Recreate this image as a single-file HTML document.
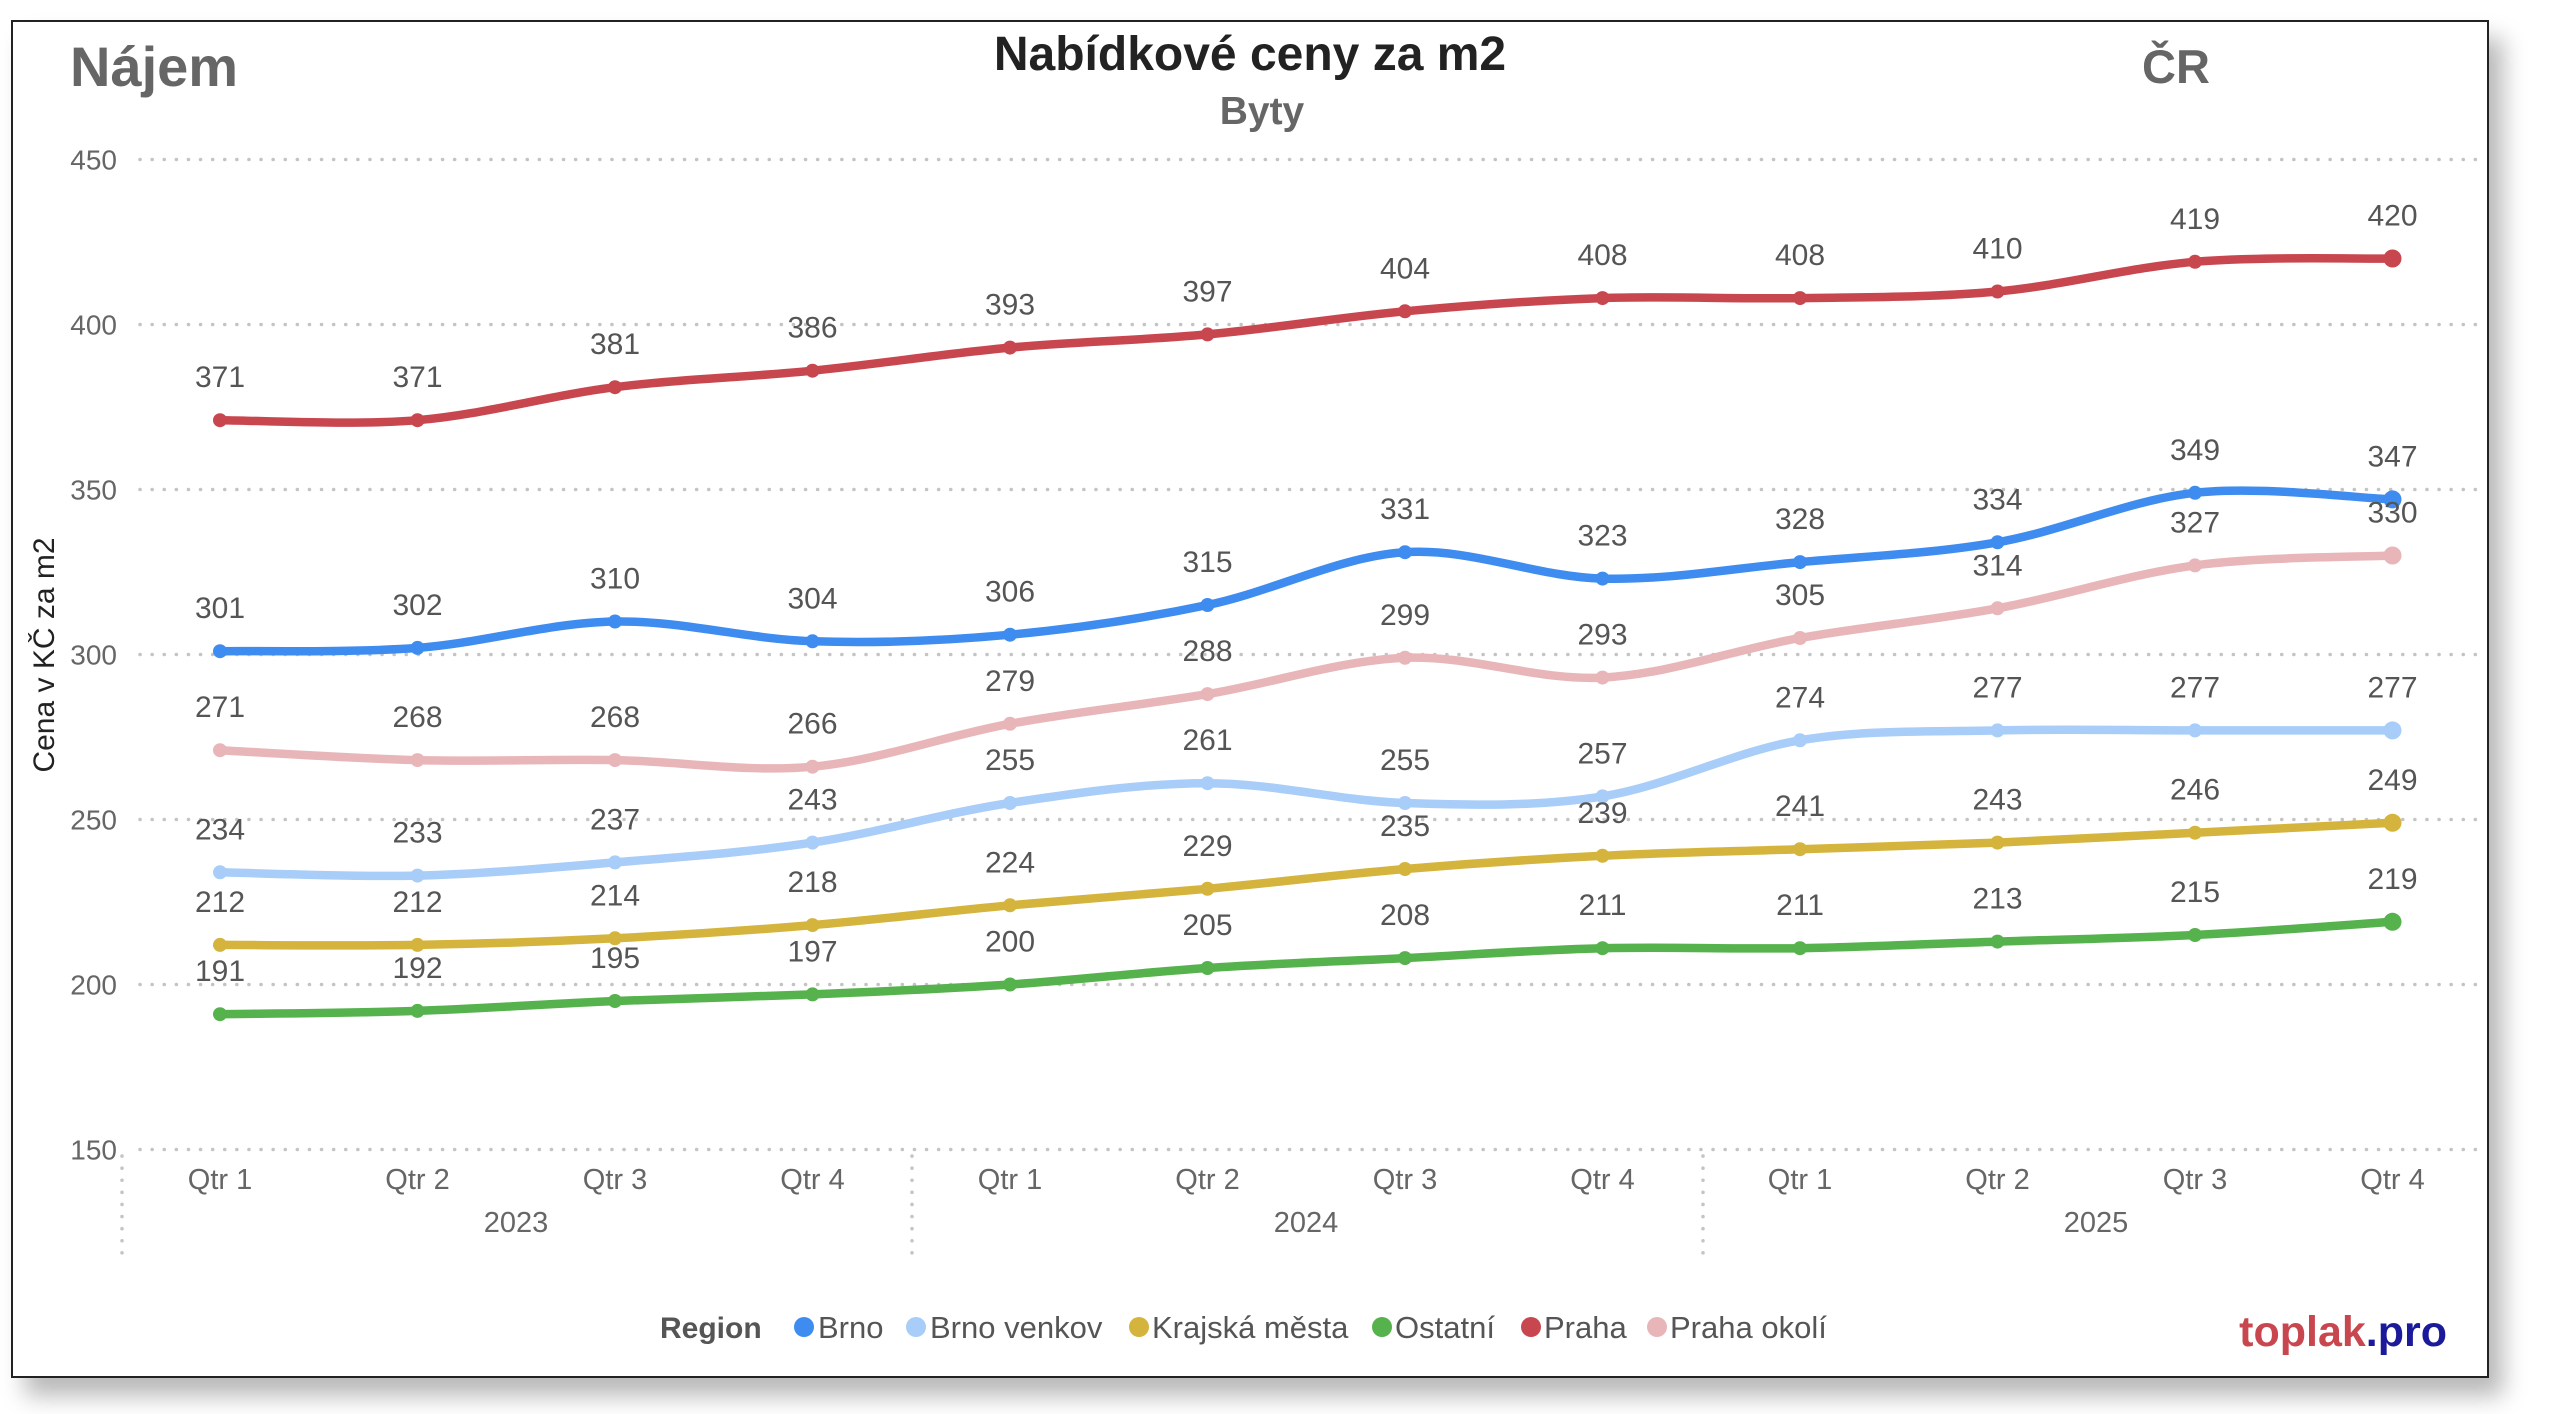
<!DOCTYPE html>
<html><head><meta charset="utf-8">
<style>
html,body{margin:0;padding:0;background:#fff;}
body{width:2560px;height:1414px;position:relative;overflow:hidden;font-family:"Liberation Sans",sans-serif;}
#frame{position:absolute;left:11px;top:20px;width:2474px;height:1354px;border:2px solid #222;background:#fff;box-shadow:14px 18px 22px rgba(0,0,0,0.28);}
svg{position:absolute;left:0;top:0;}
</style></head>
<body>
<div id="frame"></div>
<svg id="s" width="2560" height="1414" xmlns="http://www.w3.org/2000/svg" font-family="Liberation Sans, sans-serif">
<text x="70" y="86" font-size="56" font-weight="bold" fill="#666">Nájem</text>
<text x="1250" y="70" font-size="48" font-weight="bold" fill="#222" text-anchor="middle">Nabídkové ceny za m2</text>
<text x="1262" y="124" font-size="39" font-weight="bold" fill="#666" text-anchor="middle">Byty</text>
<text x="2176" y="83" font-size="47" font-weight="bold" fill="#666" text-anchor="middle">ČR</text>
<text transform="translate(54,655) rotate(-90)" font-size="30" fill="#222" text-anchor="middle">Cena v KČ za m2</text>
<g id="grid"></g>
<g id="series"></g>
<g id="labels" font-size="30" fill="#555" text-anchor="middle"></g>
<g font-size="29" fill="#666" text-anchor="middle" id="xax"></g>
<g font-size="31" fill="#555">
<text x="660" y="1338" font-weight="bold" font-size="30">Region</text>
<circle cx="804" cy="1327" r="10" fill="#3f8cf0"/><text x="818" y="1338">Brno</text>
<circle cx="916" cy="1327" r="10" fill="#a8cdf8"/><text x="930" y="1338">Brno venkov</text>
<circle cx="1139" cy="1327" r="10" fill="#d4b43c"/><text x="1152" y="1338">Krajská města</text>
<circle cx="1382" cy="1327" r="10" fill="#55b24c"/><text x="1395" y="1338">Ostatní</text>
<circle cx="1531" cy="1327" r="10" fill="#c8474f"/><text x="1544" y="1338">Praha</text>
<circle cx="1657" cy="1327" r="10" fill="#e8b6b8"/><text x="1670" y="1338">Praha okolí</text>
</g>
<text x="2447" y="1346" font-size="43" font-weight="bold" text-anchor="end"><tspan fill="#c8474f">toplak</tspan><tspan fill="#1a1a9a">.pro</tspan></text>
</svg>
<script>
var NS="http://www.w3.org/2000/svg";
function el(p,t,a,txt){var e=document.createElementNS(NS,t);for(var k in a)e.setAttribute(k,a[k]);if(txt!==undefined)e.textContent=txt;document.getElementById(p).appendChild(e);return e;}
function Y(v){return 159.5+(450-v)*3.3;}
function X(i){return 220+i*197.5;}
[450,400,350,300,250,200,150].forEach(function(v){
 el("grid","line",{x1:140,x2:2480,y1:Y(v),y2:Y(v),stroke:"#c4c4c4","stroke-width":3.5,"stroke-dasharray":"0.1 12","stroke-linecap":"round"});
 el("grid","text",{x:117,y:Y(v)+10,"font-size":28,fill:"#666","text-anchor":"end"},String(v));
});
[122,912,1703].forEach(function(x){
 el("grid","line",{x1:x,x2:x,y1:1156,y2:1258,stroke:"#c4c4c4","stroke-width":3.5,"stroke-dasharray":"0.1 12","stroke-linecap":"round"});
});
for(var i=0;i<12;i++){el("xax","text",{x:X(i),y:1189},"Qtr "+(i%4+1));}
[["2023",516],["2024",1306],["2025",2096]].forEach(function(a){el("xax","text",{x:a[1],y:1232},a[0]);});
var S=[
["#c8474f",[371,371,381,386,393,397,404,408,408,410,419,420]],
["#3f8cf0",[301,302,310,304,306,315,331,323,328,334,349,347]],
["#e8b6b8",[271,268,268,266,279,288,299,293,305,314,327,330]],
["#a8cdf8",[234,233,237,243,255,261,255,257,274,277,277,277]],
["#d4b43c",[212,212,214,218,224,229,235,239,241,243,246,249]],
["#55b24c",[191,192,195,197,200,205,208,211,211,213,215,219]]];
S.slice().reverse().forEach(function(s){
 var c=s[0],d=s[1],p=[];
 for(var i=0;i<d.length;i++)p.push([X(i),Y(d[i])]);
 var path="M"+p[0][0]+","+p[0][1];
 for(var i=0;i<p.length-1;i++){
  var p0=p[Math.max(0,i-1)],p1=p[i],p2=p[i+1],p3=p[Math.min(p.length-1,i+2)];
  var c1x=p1[0]+(p2[0]-p0[0])/6,c1y=p1[1]+(p2[1]-p0[1])/6;
  var c2x=p2[0]-(p3[0]-p1[0])/6,c2y=p2[1]-(p3[1]-p1[1])/6;
  path+=" C"+c1x+","+c1y+" "+c2x+","+c2y+" "+p2[0]+","+p2[1];
 }
 el("series","path",{d:path,fill:"none",stroke:c,"stroke-width":8.5,"stroke-linecap":"round"});
 p.forEach(function(q,i){el("series","circle",{cx:q[0],cy:q[1],r:(i==p.length-1?9:7),fill:c});});
});
S.forEach(function(s){s[1].forEach(function(v,i){el("labels","text",{x:X(i),y:Y(v)-33},String(v));});});
</script>
</body></html>
